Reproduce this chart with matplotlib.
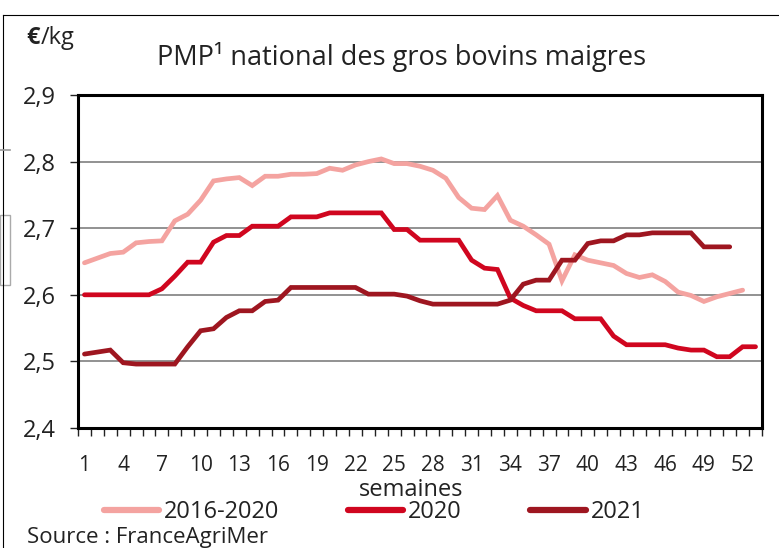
import matplotlib
matplotlib.use("Agg")
import matplotlib.pyplot as plt
from matplotlib.ticker import FixedLocator, FuncFormatter
from matplotlib.lines import Line2D
from matplotlib.patches import Rectangle

plt.rcParams['font.family'] = ['Open Sans', 'DejaVu Sans']

weeks = list(range(1, 54))
tick_weeks = list(range(1, 53, 3))

avg_2016_2020 = [2.648, 2.655, 2.662, 2.664, 2.678, 2.680, 2.681, 2.711, 2.721, 2.742,
                 2.771, 2.774, 2.776, 2.764, 2.778, 2.778, 2.781, 2.781, 2.782, 2.790,
                 2.787, 2.795, 2.800, 2.804, 2.797, 2.797, 2.793, 2.787, 2.775, 2.746,
                 2.730, 2.728, 2.749, 2.712, 2.703, 2.690, 2.676, 2.621, 2.660, 2.652,
                 2.648, 2.644, 2.632, 2.626, 2.630, 2.620, 2.604, 2.599, 2.590, 2.597,
                 2.602, 2.607]
y2020 = [2.600, 2.600, 2.600, 2.600, 2.600, 2.600, 2.609, 2.628, 2.649, 2.649,
         2.679, 2.689, 2.689, 2.703, 2.703, 2.703, 2.717, 2.717, 2.717, 2.723,
         2.723, 2.723, 2.723, 2.723, 2.698, 2.698, 2.682, 2.682, 2.682, 2.682,
         2.652, 2.640, 2.638, 2.595, 2.584, 2.576, 2.576, 2.576, 2.564, 2.564,
         2.564, 2.538, 2.525, 2.525, 2.525, 2.525, 2.520, 2.517, 2.517, 2.507,
         2.507, 2.522, 2.522]
y2021 = [2.511, 2.514, 2.517, 2.498, 2.496, 2.496, 2.496, 2.496, 2.522, 2.546,
         2.549, 2.566, 2.576, 2.576, 2.590, 2.592, 2.611, 2.611, 2.611, 2.611,
         2.611, 2.611, 2.601, 2.601, 2.601, 2.598, 2.591, 2.586, 2.586, 2.586,
         2.586, 2.586, 2.586, 2.592, 2.616, 2.622, 2.622, 2.652, 2.652, 2.677,
         2.681, 2.681, 2.690, 2.690, 2.693, 2.693, 2.693, 2.693, 2.672, 2.672,
         2.672]

series_names = ['2016-2020', '2020', '2021']
colors = ['#F4A3A0', '#D0061F', '#9E1620']

W, H = 779, 548
fig = plt.figure(figsize=(W / 100, H / 100), dpi=100)
ax = fig.add_axes([78 / W, 1 - 428 / H, (762 - 78) / W, (428 - 95) / H])

data = [avg_2016_2020, y2020, y2021]
for vals, name, c in zip(data, series_names, colors):
    ax.plot(weeks[:len(vals)], vals, color=c, lw=3.4, label=name,
            solid_joinstyle='miter', solid_capstyle='round', zorder=3)

ax.set_xlim(0.5, 53.5)
ax.set_ylim(2.4, 2.9)
ax.set_yticks([2.4, 2.5, 2.6, 2.7, 2.8, 2.9])
ax.yaxis.set_major_formatter(FuncFormatter(lambda v, p: f"{v:.1f}".replace('.', ',')))
ax.grid(axis='y', color='#7f7f7f', lw=1.2, zorder=1)
ax.set_axisbelow(True)

ax.xaxis.set_major_locator(FixedLocator(tick_weeks))
ax.set_xticklabels([str(w) for w in tick_weeks])
ax.xaxis.set_minor_locator(FixedLocator([w + 0.5 for w in range(0, 54)]))
ax.tick_params(axis='x', which='major', length=0, pad=19.5, labelsize=15, colors='#222222')
ax.tick_params(axis='x', which='minor', length=6, width=1, direction='out', color='#222222')
ax.tick_params(axis='y', which='major', length=6, width=1, labelsize=17, pad=10, colors='#222222')

for s in ax.spines.values():
    s.set_color('black')
    s.set_linewidth(2.2)

fig.text(411 / W, 1 - 496 / H, 'semaines', fontsize=17, va='baseline', ha='center', color='#222222')

fig.text(157 / W, 1 - 57 / H, 'PMP¹ national des gros bovins maigres', fontsize=19.5,
         va='center', ha='left', color='#222222')
fig.text(26 / W, 1 - 38 / H, '€', fontsize=17, fontweight='bold', va='center', ha='left', color='#222222')
fig.text(41 / W, 1 - 38 / H, '/kg', fontsize=17, va='center', ha='left', color='#222222')

leg = fig.legend(loc='center', bbox_to_anchor=(374 / W, 1 - 512 / H), ncol=3, frameon=False,
                 fontsize=17, handlelength=2.35, handletextpad=0.2, columnspacing=2.9,
                 borderpad=0, borderaxespad=0)
for t in leg.get_texts():
    t.set_color('#222222')
for h in leg.get_lines():
    h.set_linewidth(4.5)

fig.text(27 / W, 1 - 543 / H, 'Source : FranceAgriMer', fontsize=16, va='baseline', ha='left', color='#222222')

# outer frame fragments
fig.add_artist(Line2D([3 / W, 1], [1 - 15 / H, 1 - 15 / H], color='black', lw=0.8))
fig.add_artist(Line2D([3 / W, 3 / W], [0, 1 - 15 / H], color='black', lw=0.8))
fig.add_artist(Line2D([0, 10 / W], [1 - 150 / H, 1 - 150 / H], color='#999999', lw=1.2))
fig.add_artist(Rectangle((0, 1 - 285 / H), 10 / W, 70 / H, fill=False, ec='#aaaaaa', lw=1.0))

fig.savefig('out.png', dpi=100)
